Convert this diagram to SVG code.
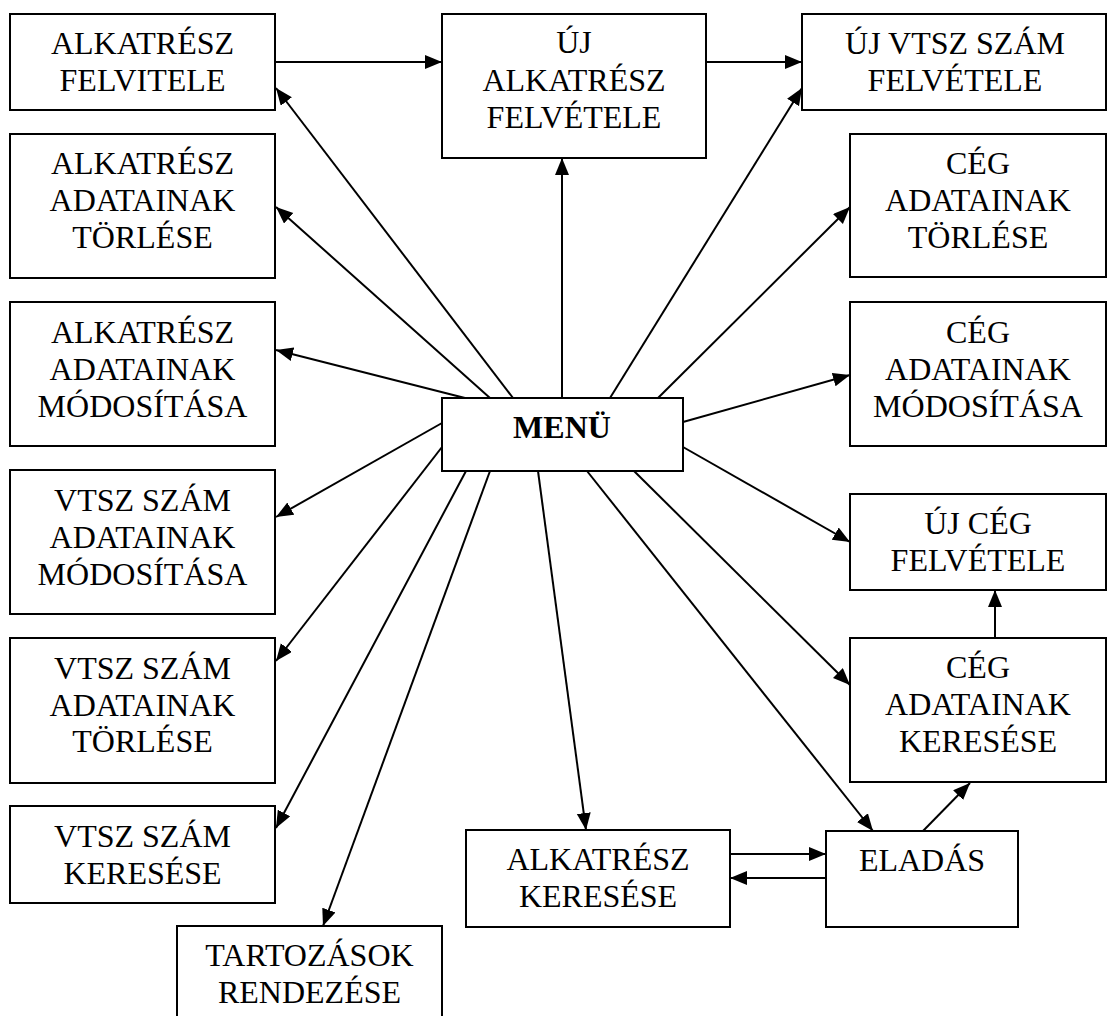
<svg xmlns="http://www.w3.org/2000/svg" width="1108" height="1016" viewBox="0 0 1108 1016">
<style>
.n{fill:#fff;stroke:#000;stroke-width:2}
text{font-family:"Liberation Serif","Times New Roman",serif;font-size:32px;fill:#000;text-anchor:middle}
.b{font-weight:bold}
#edges line{stroke:#000;stroke-width:2;marker-end:url(#ah)}
</style>
<defs>
<marker id="ah" markerUnits="userSpaceOnUse" markerWidth="18" markerHeight="15" refX="17" refY="7" orient="auto">
<path d="M0,0 L17,7 L0,14 z" fill="#000"/>
</marker>
</defs>
<rect width="1108" height="1016" fill="#fff"/>
<g id="edges">
<line x1="275" y1="62" x2="442" y2="62"/>
<line x1="706" y1="62" x2="802" y2="62"/>
<line x1="562" y1="398" x2="562" y2="158"/>
<line x1="513" y1="398" x2="276" y2="88"/>
<line x1="490" y1="398" x2="276" y2="207"/>
<line x1="465" y1="398" x2="276" y2="350"/>
<line x1="442" y1="423" x2="276" y2="517"/>
<line x1="442" y1="447" x2="276" y2="661"/>
<line x1="466" y1="471" x2="276" y2="828"/>
<line x1="490" y1="471" x2="323" y2="926"/>
<line x1="538" y1="471" x2="586" y2="830"/>
<line x1="587" y1="471" x2="873" y2="831"/>
<line x1="634" y1="471" x2="850" y2="685"/>
<line x1="683" y1="447" x2="850" y2="542"/>
<line x1="683" y1="422" x2="850" y2="375"/>
<line x1="658" y1="398" x2="850" y2="207"/>
<line x1="610" y1="398" x2="802" y2="88"/>
<line x1="923" y1="831" x2="970" y2="783"/>
<line x1="995" y1="638" x2="995" y2="590"/>
<line x1="730" y1="854" x2="826" y2="854"/>
<line x1="826" y1="878" x2="730" y2="878"/>
</g>
<g id="n-alk-felvitele"><rect class="n" x="10" y="14" width="265" height="96"/><text x="142.5" y="54">ALKATRÉSZ</text><text x="142.5" y="91">FELVITELE</text></g>
<g id="n-alk-torlese"><rect class="n" x="10" y="134" width="265" height="144"/><text x="142.5" y="174">ALKATRÉSZ</text><text x="142.5" y="211">ADATAINAK</text><text x="142.5" y="248">TÖRLÉSE</text></g>
<g id="n-alk-modositasa"><rect class="n" x="10" y="302" width="265" height="144"/><text x="142.5" y="343">ALKATRÉSZ</text><text x="142.5" y="380">ADATAINAK</text><text x="142.5" y="417">MÓDOSÍTÁSA</text></g>
<g id="n-vtsz-modositasa"><rect class="n" x="10" y="470" width="265" height="144"/><text x="142.5" y="511">VTSZ SZÁM</text><text x="142.5" y="548">ADATAINAK</text><text x="142.5" y="585">MÓDOSÍTÁSA</text></g>
<g id="n-vtsz-torlese"><rect class="n" x="10" y="638" width="265" height="145"/><text x="142.5" y="679">VTSZ SZÁM</text><text x="142.5" y="716">ADATAINAK</text><text x="142.5" y="752">TÖRLÉSE</text></g>
<g id="n-vtsz-keresese"><rect class="n" x="10" y="806" width="265" height="97"/><text x="142.5" y="847">VTSZ SZÁM</text><text x="142.5" y="884">KERESÉSE</text></g>
<g id="n-tartozasok"><rect class="n" x="177" y="926" width="265" height="100"/><text x="309.5" y="966">TARTOZÁSOK</text><text x="309.5" y="1003">RENDEZÉSE</text></g>
<g id="n-uj-alk"><rect class="n" x="442" y="14" width="264" height="144"/><text x="574" y="53">ÚJ</text><text x="574" y="91">ALKATRÉSZ</text><text x="574" y="128">FELVÉTELE</text></g>
<g id="n-uj-vtsz"><rect class="n" x="802" y="14" width="304" height="96"/><text x="955" y="54">ÚJ VTSZ SZÁM</text><text x="955" y="91">FELVÉTELE</text></g>
<g id="n-ceg-torlese"><rect class="n" x="850" y="134" width="256" height="143"/><text x="978" y="174">CÉG</text><text x="978" y="211">ADATAINAK</text><text x="978" y="248">TÖRLÉSE</text></g>
<g id="n-ceg-modositasa"><rect class="n" x="850" y="302" width="256" height="144"/><text x="978" y="343">CÉG</text><text x="978" y="380">ADATAINAK</text><text x="978" y="417">MÓDOSÍTÁSA</text></g>
<g id="n-uj-ceg"><rect class="n" x="850" y="494" width="256" height="96"/><text x="978" y="534">ÚJ CÉG</text><text x="978" y="571">FELVÉTELE</text></g>
<g id="n-ceg-keresese"><rect class="n" x="850" y="638" width="256" height="144"/><text x="978" y="678">CÉG</text><text x="978" y="715">ADATAINAK</text><text x="978" y="752">KERESÉSE</text></g>
<g id="n-menu"><rect class="n" x="442" y="398" width="241" height="73"/><text class="b" x="562" y="438">MENÜ</text></g>
<g id="n-alk-keresese"><rect class="n" x="466" y="830" width="264" height="97"/><text x="598" y="870">ALKATRÉSZ</text><text x="598" y="907">KERESÉSE</text></g>
<g id="n-eladas"><rect class="n" x="826" y="831" width="192" height="96"/><text x="922" y="871">ELADÁS</text></g>
</svg>
